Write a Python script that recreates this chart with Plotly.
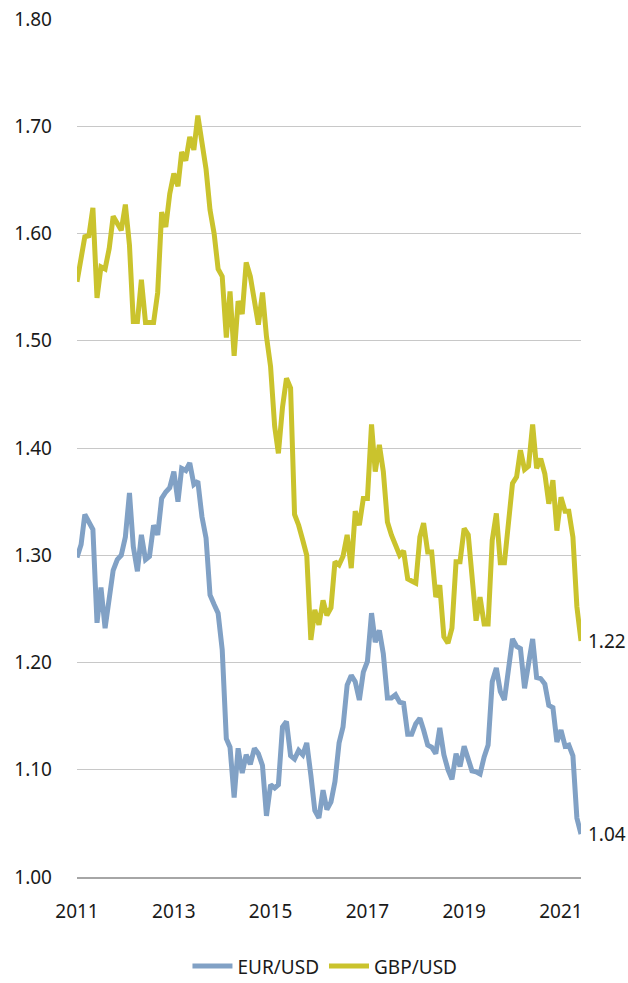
import pandas as pd
import plotly.graph_objects as go

# Monthly exchange rates, one value per month
months = pd.date_range("2011-01-01", periods=126, freq="MS")

eur_usd = [
    1.298, 1.310, 1.338, 1.331, 1.324, 1.237, 1.270, 1.232, 1.258, 1.286,
    1.296, 1.300, 1.317, 1.358, 1.308, 1.285, 1.319, 1.296, 1.299, 1.328,
    1.319, 1.353, 1.359, 1.363, 1.378, 1.350, 1.381, 1.379, 1.386, 1.366,
    1.369, 1.336, 1.316, 1.263, 1.254, 1.246, 1.212, 1.129, 1.121, 1.074,
    1.120, 1.097, 1.114, 1.105, 1.120, 1.115, 1.104, 1.057, 1.086, 1.083,
    1.086, 1.140, 1.145, 1.113, 1.110, 1.118, 1.114, 1.125, 1.095, 1.062,
    1.055, 1.081, 1.063, 1.070, 1.089, 1.125, 1.140, 1.179, 1.188, 1.182,
    1.165, 1.191, 1.201, 1.246, 1.219, 1.230, 1.208, 1.167, 1.167, 1.170,
    1.163, 1.162, 1.133, 1.133, 1.143, 1.148, 1.137, 1.123, 1.121, 1.115,
    1.139, 1.114, 1.100, 1.091, 1.115, 1.103, 1.122, 1.109, 1.099, 1.098,
    1.096, 1.112, 1.123, 1.182, 1.195, 1.173, 1.165, 1.193, 1.222, 1.215,
    1.213, 1.176, 1.202, 1.222, 1.186, 1.185, 1.180, 1.160, 1.158, 1.126,
    1.137, 1.122, 1.123, 1.113, 1.055, 1.04,
]

gbp_usd = [
    1.555, 1.580, 1.597, 1.598, 1.624, 1.540, 1.569, 1.567, 1.586, 1.616,
    1.610, 1.603, 1.627, 1.589, 1.518, 1.518, 1.557, 1.517, 1.517, 1.517,
    1.545, 1.620, 1.606, 1.637, 1.656, 1.644, 1.676, 1.668, 1.690, 1.678,
    1.710, 1.687, 1.660, 1.622, 1.600, 1.567, 1.560, 1.503, 1.546, 1.486,
    1.537, 1.525, 1.573, 1.560, 1.538, 1.515, 1.545, 1.504, 1.476, 1.420,
    1.395, 1.438, 1.465, 1.456, 1.338, 1.328, 1.314, 1.300, 1.221, 1.249,
    1.235, 1.258, 1.244, 1.251, 1.294, 1.291, 1.299, 1.319, 1.288, 1.341,
    1.328, 1.353, 1.353, 1.422, 1.378, 1.403, 1.378, 1.331, 1.319, 1.308,
    1.300, 1.304, 1.278, 1.276, 1.274, 1.317, 1.330, 1.303, 1.303, 1.261,
    1.272, 1.224, 1.218, 1.232, 1.294, 1.294, 1.325, 1.319, 1.280, 1.239,
    1.261, 1.236, 1.236, 1.314, 1.339, 1.293, 1.293, 1.330, 1.367, 1.373,
    1.398, 1.380, 1.383, 1.422, 1.381, 1.390, 1.376, 1.348, 1.370, 1.323,
    1.354, 1.341, 1.341, 1.317, 1.252, 1.22,
]

series_names = ["EUR/USD", "GBP/USD"]
series_values = [eur_usd, gbp_usd]
series_colors = ["#81a1c5", "#cac32d"]

x_tick_labels = ["2011", "2013", "2015", "2017", "2019", "2021"]
y_tick_values = [1.00, 1.10, 1.20, 1.30, 1.40, 1.50, 1.60, 1.70, 1.80]

FONT = "Noto Sans"
TEXT_COLOR = "#1a1a1a"

fig = go.Figure()
for name, values, color in zip(series_names, series_values, series_colors):
    fig.add_trace(go.Scatter(
        x=months, y=values, name=name, mode="lines",
        line=dict(color=color, width=5),
    ))

# Latest value printed to the right of each line
for values in series_values:
    fig.add_annotation(
        x=months[-1], y=values[-1], text=f"{values[-1]:.2f}",
        xanchor="left", yanchor="middle", xshift=5, showarrow=False,
        font=dict(family=FONT, size=19, color=TEXT_COLOR),
    )

tick_dates = [pd.Timestamp(f"{label}-01-01") for label in x_tick_labels]

fig.update_layout(
    width=628, height=983,
    margin=dict(l=77, r=47, t=19, b=106, autoexpand=False),
    paper_bgcolor="white", plot_bgcolor="white",
    font=dict(family=FONT, size=19, color=TEXT_COLOR),
    showlegend=True,
    legend=dict(
        orientation="h", x=0.492, xanchor="center", y=-0.104, yanchor="middle",
        font=dict(family=FONT, size=19, color=TEXT_COLOR),
        itemwidth=40, traceorder="normal",
    ),
    hovermode=False,
)

fig.update_xaxes(
    type="date",
    range=[months[0], months[-1]],
    tickvals=tick_dates, ticktext=x_tick_labels,
    showgrid=False, zeroline=False, automargin=False,
    showline=True, linecolor="#a6a6a6", linewidth=1.5,
    ticks="", ticklabelstandoff=16,
)

fig.update_yaxes(
    range=[1.0, 1.8], automargin=False,
    tickvals=y_tick_values, ticktext=[f"{v:.2f}" for v in y_tick_values],
    showgrid=True, gridcolor="#c8c8c8", gridwidth=1,
    zeroline=False, showline=False,
    ticks="", ticklabelstandoff=24,
)

fig.write_html("out.html")
